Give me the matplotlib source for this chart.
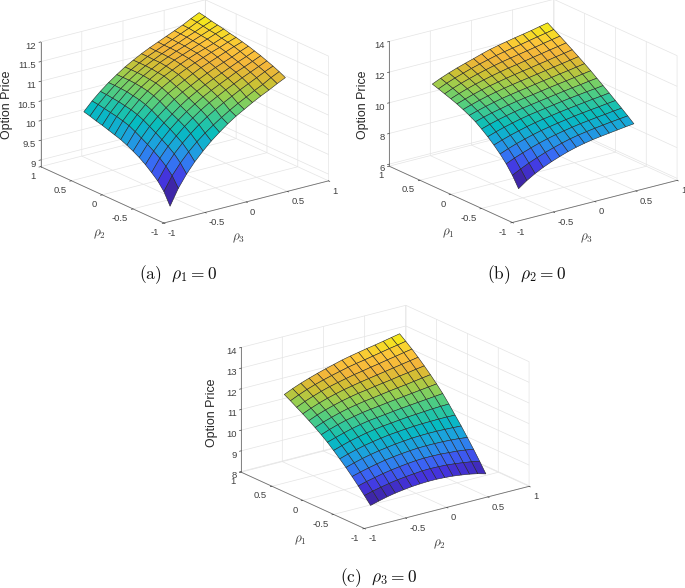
"""Option price surfaces over pairs of correlations, three 3D panels."""

import matplotlib

matplotlib.use("Agg")
import matplotlib.pyplot as plt
from matplotlib.colors import LinearSegmentedColormap
import numpy as np

RHO = [-0.7, -0.6, -0.5, -0.4, -0.3, -0.2, -0.1, 0.0, 0.1, 0.2, 0.3, 0.4, 0.5, 0.6, 0.7]
RHO_TICKS = [-1, -0.5, 0, 0.5, 1]
RHO_TICK_LABELS = ["-1", "-0.5", "0", "0.5", "1"]

# rows: rho_2, columns: rho_3
PRICE_A = [
    [8.88, 9.28, 9.59, 9.85, 10.07, 10.27, 10.44, 10.60, 10.74, 10.86, 10.98, 11.09, 11.19, 11.30, 11.40],
    [9.18, 9.53, 9.80, 10.03, 10.23, 10.40, 10.55, 10.69, 10.82, 10.94, 11.05, 11.16, 11.26, 11.38, 11.48],
    [9.38, 9.70, 9.96, 10.18, 10.37, 10.54, 10.69, 10.82, 10.94, 11.05, 11.16, 11.26, 11.36, 11.46, 11.55],
    [9.52, 9.83, 10.08, 10.29, 10.48, 10.64, 10.79, 10.92, 11.03, 11.14, 11.24, 11.34, 11.43, 11.52, 11.61],
    [9.65, 9.94, 10.18, 10.39, 10.57, 10.73, 10.87, 11.00, 11.11, 11.21, 11.31, 11.41, 11.49, 11.58, 11.67],
    [9.76, 10.04, 10.28, 10.48, 10.65, 10.81, 10.95, 11.07, 11.18, 11.28, 11.37, 11.46, 11.55, 11.63, 11.72],
    [9.85, 10.13, 10.37, 10.57, 10.74, 10.90, 11.03, 11.14, 11.25, 11.35, 11.44, 11.52, 11.60, 11.69, 11.77],
    [9.93, 10.22, 10.46, 10.66, 10.83, 10.98, 11.10, 11.21, 11.32, 11.42, 11.50, 11.58, 11.66, 11.74, 11.81],
    [10.00, 10.30, 10.53, 10.73, 10.90, 11.05, 11.17, 11.28, 11.38, 11.47, 11.55, 11.63, 11.70, 11.78, 11.85],
    [10.05, 10.35, 10.58, 10.78, 10.95, 11.10, 11.22, 11.32, 11.42, 11.51, 11.59, 11.66, 11.73, 11.81, 11.88],
    [10.10, 10.39, 10.61, 10.81, 10.98, 11.12, 11.24, 11.35, 11.45, 11.53, 11.61, 11.69, 11.77, 11.85, 11.92],
    [10.15, 10.42, 10.64, 10.84, 11.00, 11.14, 11.26, 11.37, 11.46, 11.55, 11.63, 11.71, 11.79, 11.87, 11.95],
    [10.19, 10.45, 10.66, 10.85, 11.01, 11.15, 11.27, 11.37, 11.47, 11.56, 11.64, 11.73, 11.81, 11.90, 11.98],
    [10.24, 10.48, 10.68, 10.86, 11.01, 11.15, 11.27, 11.38, 11.47, 11.56, 11.65, 11.74, 11.83, 11.93, 12.02],
    [10.28, 10.50, 10.69, 10.86, 11.01, 11.15, 11.27, 11.38, 11.48, 11.57, 11.66, 11.75, 11.84, 11.95, 12.05],
]

# rows: rho_1, columns: rho_3
PRICE_B = [
    [7.11, 7.50, 7.82, 8.09, 8.32, 8.52, 8.70, 8.85, 8.97, 9.07, 9.15, 9.22, 9.29, 9.36, 9.42],
    [7.80, 8.07, 8.32, 8.54, 8.74, 8.91, 9.07, 9.21, 9.32, 9.41, 9.49, 9.56, 9.63, 9.69, 9.75],
    [8.36, 8.60, 8.80, 8.99, 9.16, 9.31, 9.44, 9.55, 9.65, 9.74, 9.81, 9.88, 9.94, 10.01, 10.07],
    [8.82, 9.03, 9.22, 9.38, 9.53, 9.66, 9.77, 9.87, 9.96, 10.05, 10.12, 10.19, 10.25, 10.32, 10.38],
    [9.22, 9.41, 9.58, 9.73, 9.87, 9.99, 10.09, 10.18, 10.27, 10.35, 10.42, 10.49, 10.56, 10.62, 10.69],
    [9.58, 9.76, 9.92, 10.06, 10.19, 10.30, 10.39, 10.47, 10.56, 10.64, 10.72, 10.79, 10.86, 10.92, 10.99],
    [9.90, 10.07, 10.22, 10.35, 10.47, 10.57, 10.66, 10.74, 10.83, 10.91, 10.99, 11.07, 11.14, 11.22, 11.29],
    [10.19, 10.35, 10.49, 10.61, 10.73, 10.83, 10.92, 11.00, 11.09, 11.18, 11.26, 11.34, 11.42, 11.51, 11.59],
    [10.42, 10.58, 10.73, 10.86, 10.98, 11.08, 11.17, 11.26, 11.35, 11.44, 11.52, 11.61, 11.69, 11.78, 11.87],
    [10.62, 10.79, 10.95, 11.09, 11.21, 11.32, 11.42, 11.51, 11.60, 11.69, 11.78, 11.87, 11.96, 12.05, 12.14],
    [10.80, 10.98, 11.15, 11.30, 11.43, 11.54, 11.65, 11.75, 11.84, 11.93, 12.03, 12.12, 12.22, 12.31, 12.41],
    [10.95, 11.15, 11.33, 11.49, 11.63, 11.76, 11.88, 11.99, 12.08, 12.18, 12.28, 12.38, 12.48, 12.57, 12.67],
    [11.09, 11.31, 11.50, 11.67, 11.83, 11.97, 12.10, 12.22, 12.32, 12.42, 12.52, 12.62, 12.73, 12.83, 12.93],
    [11.23, 11.46, 11.66, 11.84, 12.01, 12.16, 12.30, 12.44, 12.55, 12.65, 12.75, 12.86, 12.97, 13.07, 13.18],
    [11.36, 11.60, 11.81, 12.00, 12.17, 12.33, 12.50, 12.66, 12.78, 12.89, 13.00, 13.10, 13.20, 13.32, 13.43],
]

# rows: rho_1, columns: rho_2
PRICE_C = [
    [8.37, 8.48, 8.58, 8.66, 8.72, 8.77, 8.80, 8.82, 8.82, 8.80, 8.77, 8.72, 8.66, 8.58, 8.47],
    [8.71, 8.82, 8.91, 8.99, 9.06, 9.11, 9.15, 9.19, 9.20, 9.19, 9.17, 9.13, 9.08, 9.02, 8.94],
    [9.04, 9.15, 9.24, 9.33, 9.40, 9.46, 9.51, 9.55, 9.57, 9.57, 9.56, 9.53, 9.50, 9.45, 9.39],
    [9.36, 9.47, 9.57, 9.66, 9.74, 9.80, 9.85, 9.89, 9.92, 9.93, 9.93, 9.92, 9.90, 9.87, 9.82],
    [9.66, 9.78, 9.89, 9.98, 10.06, 10.12, 10.18, 10.22, 10.26, 10.28, 10.29, 10.29, 10.28, 10.26, 10.24],
    [9.94, 10.07, 10.18, 10.28, 10.36, 10.43, 10.49, 10.53, 10.57, 10.60, 10.62, 10.63, 10.64, 10.64, 10.63],
    [10.21, 10.34, 10.46, 10.56, 10.65, 10.72, 10.78, 10.82, 10.87, 10.91, 10.94, 10.97, 11.00, 11.02, 11.03],
    [10.47, 10.60, 10.72, 10.83, 10.92, 11.00, 11.05, 11.10, 11.15, 11.20, 11.24, 11.28, 11.32, 11.36, 11.40],
    [10.70, 10.85, 10.98, 11.09, 11.18, 11.26, 11.32, 11.37, 11.43, 11.48, 11.53, 11.58, 11.63, 11.68, 11.73],
    [10.91, 11.07, 11.20, 11.32, 11.42, 11.50, 11.57, 11.63, 11.69, 11.75, 11.81, 11.86, 11.92, 11.98, 12.04],
    [11.11, 11.28, 11.42, 11.54, 11.65, 11.74, 11.82, 11.88, 11.95, 12.01, 12.07, 12.14, 12.20, 12.27, 12.33],
    [11.30, 11.47, 11.62, 11.75, 11.86, 11.96, 12.04, 12.12, 12.19, 12.26, 12.33, 12.40, 12.47, 12.54, 12.61],
    [11.48, 11.66, 11.81, 11.95, 12.07, 12.17, 12.26, 12.35, 12.42, 12.50, 12.57, 12.65, 12.72, 12.80, 12.87],
    [11.66, 11.84, 12.00, 12.14, 12.26, 12.37, 12.47, 12.57, 12.65, 12.72, 12.80, 12.88, 12.96, 13.03, 13.11],
    [11.83, 12.01, 12.17, 12.31, 12.44, 12.56, 12.67, 12.78, 12.87, 12.95, 13.03, 13.10, 13.18, 13.26, 13.34],
]

ZTICKS_A = [9, 9.5, 10, 10.5, 11, 11.5, 12]
ZTICK_LABELS_A = ["9", "9.5", "10", "10.5", "11", "11.5", "12"]
ZTICKS_B = [6, 8, 10, 12, 14]
ZTICK_LABELS_B = ["6", "8", "10", "12", "14"]
ZTICKS_C = [8, 9, 10, 11, 12, 13, 14]
ZTICK_LABELS_C = ["8", "9", "10", "11", "12", "13", "14"]

PARULA = LinearSegmentedColormap.from_list(
    "parula",
    ["#3e26a8", "#4435e0", "#3a68f5", "#2a8cec", "#18a8d8", "#05bcc0", "#2cc6a0",
     "#5ccf78", "#98cf50", "#cfc034", "#f2b53a", "#fcc43a", "#f4e61e"],
    N=64,
)

WIDTH, HEIGHT = 685, 588
AXES_SIZE = 340
TICK_COLOR = "#404040"
WALL_COLOR = "#e4e4e4"

plt.rcParams.update(
    {
        "font.family": "Liberation Sans",
        "mathtext.fontset": "cm",
        "axes.unicode_minus": False,
    }
)

fig = plt.figure(figsize=(WIDTH / 100, HEIGHT / 100), dpi=100, facecolor="white")


def put_text(xy, text, **kwargs):
    fig.text(xy[0] / WIDTH, 1 - xy[1] / HEIGHT, text, ha="center", va="center", **kwargs)


def draw_panel(center, price, zlim, zticks, zlabels):
    left = (center[0] - AXES_SIZE / 2) / WIDTH
    bottom = 1 - (center[1] + AXES_SIZE / 2) / HEIGHT
    ax = fig.add_axes([left, bottom, AXES_SIZE / WIDTH, AXES_SIZE / HEIGHT], projection="3d")
    ax.set_proj_type("ortho")
    ax.view_init(elev=20, azim=-126.8)
    ax.set_box_aspect((1, 1, 0.645), zoom=0.913)
    ax.patch.set_alpha(0)

    xx, yy = np.meshgrid(RHO, RHO)
    ax.plot_surface(
        xx,
        yy,
        np.array(price),
        cmap=PARULA,
        rstride=1,
        cstride=1,
        edgecolor="#262626",
        linewidth=0.4,
        shade=False,
        antialiased=True,
    )

    ax.set_xlim(-1, 1, view_margin=0)
    ax.set_ylim(-1, 1, view_margin=0)
    ax.set_zlim(zlim[0], zlim[1], view_margin=0)
    ax.set_xticks(RHO_TICKS, RHO_TICK_LABELS)
    ax.set_yticks(RHO_TICKS, RHO_TICK_LABELS)
    ax.set_zticks(zticks, zlabels)

    for axis in (ax.xaxis, ax.yaxis, ax.zaxis):
        axis.set_pane_color((1, 1, 1, 0))
        axis.pane.set_edgecolor(WALL_COLOR)
        axis.line.set_color("#707070")
        axis.line.set_linewidth(0.6)
        axis._axinfo["grid"].update(color=WALL_COLOR, linewidth=0.5)
        axis._axinfo["tick"].update(inward_factor=0.12, outward_factor=0.0, linewidth={True: 0.5, False: 0.5}, color="#707070")
    ax.tick_params(labelsize=6.8, colors=TICK_COLOR, pad=-4)
    ax.tick_params(axis="z", pad=-6)
    ax.zaxis.set_ticks_position("upper")
    plt.setp(ax.get_xticklabels(), ha="left")
    plt.setp(ax.get_yticklabels(), ha="right")
    plt.setp(ax.get_zticklabels(), ha="right")
    return ax


draw_panel((180, 116), PRICE_A, (8.83, 12), ZTICKS_A, ZTICK_LABELS_A)
draw_panel((528.5, 115.5), PRICE_B, (5.87, 14), ZTICKS_B, ZTICK_LABELS_B)
draw_panel((380.5, 421.5), PRICE_C, (7.97, 14), ZTICKS_C, ZTICK_LABELS_C)

# axis labels and captions sit where the reference has them
LABEL_STYLE = {"fontsize": 9.5, "color": TICK_COLOR}
PRICE_STYLE = {"fontsize": 8.9, "rotation": 90, "color": "#262626"}
CAPTION_STYLE = {"fontsize": 12.5, "color": "#111111"}

put_text((99, 234), r"$\rho_2$", **LABEL_STYLE)
put_text((239, 238), r"$\rho_3$", **LABEL_STYLE)
put_text((7, 105), "Option Price", **PRICE_STYLE)
put_text((177.5, 275), r"$\mathrm{(a)}\ \ \rho_1 = 0$", **CAPTION_STYLE)

put_text((448, 233), r"$\rho_1$", **LABEL_STYLE)
put_text((587, 238), r"$\rho_3$", **LABEL_STYLE)
put_text((363, 105), "Option Price", **PRICE_STYLE)
put_text((526, 275), r"$\mathrm{(b)}\ \ \rho_2 = 0$", **CAPTION_STYLE)

put_text((300, 540), r"$\rho_1$", **LABEL_STYLE)
put_text((439, 544), r"$\rho_2$", **LABEL_STYLE)
put_text((212, 413), "Option Price", **PRICE_STYLE)
put_text((378, 578), r"$\mathrm{(c)}\ \ \rho_3 = 0$", **CAPTION_STYLE)

fig.savefig("out.png", dpi=100, facecolor="white")
